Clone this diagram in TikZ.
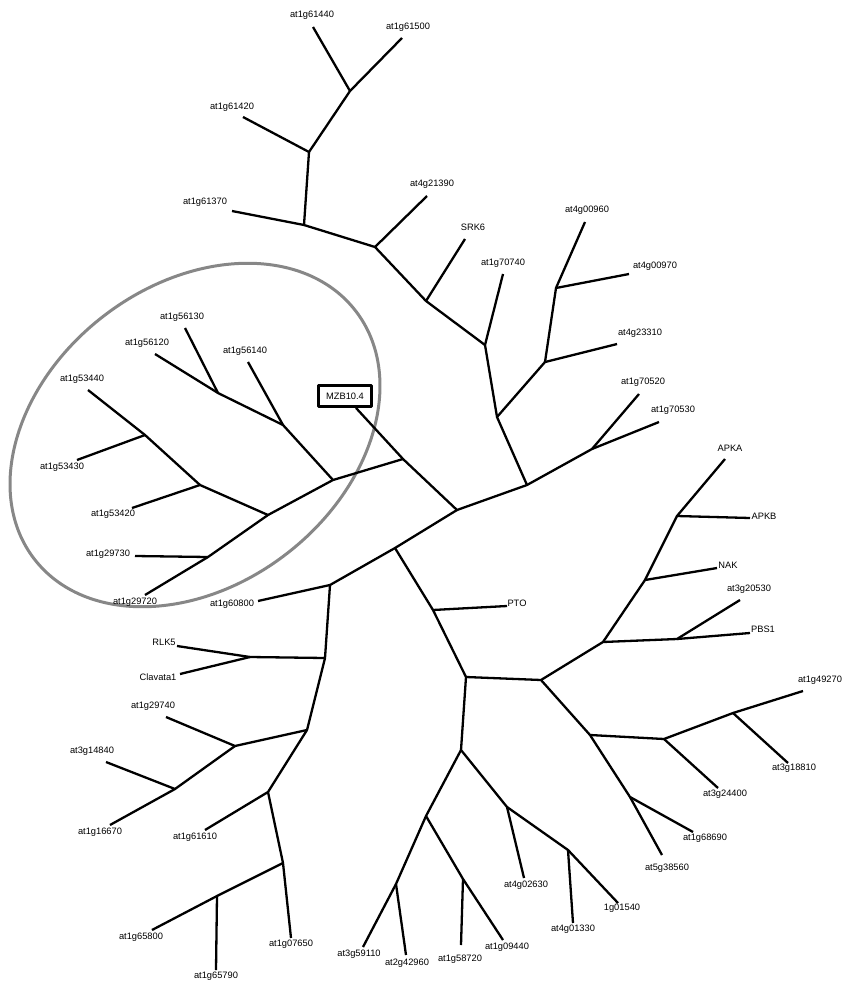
\documentclass[tikz,border=0pt]{standalone}
\usepackage{fontspec}
\setmainfont{Liberation Sans}
\begin{document}
\begin{tikzpicture}[x=1pt, y=-1pt, line join=round]
        % Definición de estilos
        \tikzstyle{rama} = [line width=2.3pt]
        \tikzstyle{etiquetaGen} = [font=\fontsize{9.3}{11}\selectfont, inner sep=0pt]
        \tikzstyle{cajaGen} = [draw, line width=2.8pt, minimum width=53pt, minimum height=21pt, inner sep=0pt, font=\fontsize{9.3}{11}\selectfont]
        \tikzstyle{grupo} = [draw=black!47, line width=3pt]

        \useasboundingbox (0,0) rectangle (845,982);

        % Nodos internos
        \coordinate (nA) at (457,510);  \coordinate (nB) at (403,459);
        \coordinate (nC) at (333,480);  \coordinate (nD) at (283,425);
        \coordinate (nE) at (218,393);  \coordinate (nF) at (268,515);
        \coordinate (nG) at (200,485);  \coordinate (nH) at (145,435);
        \coordinate (nI) at (208,557);  \coordinate (nJ) at (527,485);
        \coordinate (nK) at (592,449);  \coordinate (nL) at (497,417);
        \coordinate (nM) at (545,362);  \coordinate (nN) at (556,288);
        \coordinate (nO) at (485,345);  \coordinate (nP) at (426,301);
        \coordinate (nQ) at (375,247);  \coordinate (nR) at (304,225);
        \coordinate (nS) at (309,152);  \coordinate (nT) at (350,91);
        \coordinate (nU) at (395,548);  \coordinate (nV) at (330,585);
        \coordinate (nW) at (325,658);  \coordinate (nX) at (250,657);
        \coordinate (nY) at (307,730);  \coordinate (nZ) at (235,746);
        \coordinate (nAA) at (175,789); \coordinate (nAB) at (268,792);
        \coordinate (nAC) at (283,863); \coordinate (nAD) at (217,896);
        \coordinate (nAE) at (433,610); \coordinate (nAF) at (466,677);
        \coordinate (nAG) at (541,680); \coordinate (nAH) at (461,750);
        \coordinate (nAI) at (426,816); \coordinate (nAJ) at (396,884);
        \coordinate (nAK) at (463,879); \coordinate (nAL) at (507,807);
        \coordinate (nAM) at (568,850); \coordinate (nAN) at (603,642);
        \coordinate (nAO) at (677,639); \coordinate (nAP) at (645,580);
        \coordinate (nAQ) at (677,516); \coordinate (nAR) at (590,735);
        \coordinate (nAS) at (664,739); \coordinate (nAT) at (733,713);
        \coordinate (nAU) at (630,797);

        % Extremos de las hojas
        \coordinate (t61440) at (313,27);   \coordinate (t61500) at (402,38);
        \coordinate (t61420) at (243,117);  \coordinate (t61370) at (232,211);
        \coordinate (t21390) at (427,196);  \coordinate (tSRK6) at (465,239);
        \coordinate (t70740) at (503,274);  \coordinate (t00960) at (585,222);
        \coordinate (t00970) at (629,274);  \coordinate (t23310) at (617,344);
        \coordinate (t70520) at (639,394);  \coordinate (t70530) at (659,422);
        \coordinate (tAPKA) at (725,459);   \coordinate (tAPKB) at (750,518);
        \coordinate (tNAK) at (717,568);    \coordinate (t20530) at (740,600);
        \coordinate (tPBS1) at (750,633);   \coordinate (t49270) at (803,691);
        \coordinate (t18810) at (788,763);  \coordinate (t24400) at (718,788);
        \coordinate (t68690) at (693,832);  \coordinate (t38560) at (662,855);
        \coordinate (t01540) at (618,903);  \coordinate (t01330) at (573,923);
        \coordinate (t02630) at (524,878);  \coordinate (t09440) at (503,940);
        \coordinate (t58720) at (461,945);  \coordinate (t42960) at (406,955);
        \coordinate (t59110) at (363,947);  \coordinate (t07650) at (291,938);
        \coordinate (t65790) at (216,970);  \coordinate (t65800) at (152,930);
        \coordinate (t61610) at (205,830);  \coordinate (t16670) at (110,825);
        \coordinate (t14840) at (106,762);  \coordinate (t29740) at (166,717);
        \coordinate (tClav) at (180,674);   \coordinate (tRLK5) at (177,646);
        \coordinate (t60800) at (258,601);  \coordinate (t29720) at (145,595);
        \coordinate (t29730) at (135,556);  \coordinate (t53420) at (132,508);
        \coordinate (t53430) at (77,460);   \coordinate (t53440) at (88,390);
        \coordinate (t56120) at (155,354);  \coordinate (t56130) at (185,328);
        \coordinate (t56140) at (248,362);  \coordinate (tPTO) at (507,606);

        % Grupo marcado
        \draw[grupo, rotate around={37.7:(195,435)}] (195,435) ellipse [x radius=203pt, y radius=150pt];

        % Etiquetas
        \node[etiquetaGen] (l61440) at (312,15) {at1g61440};
        \node[etiquetaGen] (l61500) at (408,27) {at1g61500};
        \node[etiquetaGen] (l61420) at (232,107) {at1g61420};
        \node[etiquetaGen] (l61370) at (205,202) {at1g61370};
        \node[etiquetaGen] (l21390) at (432,184) {at4g21390};
        \node[etiquetaGen] (lSRK6) at (473,227) {SRK6};
        \node[etiquetaGen] (l70740) at (503,263) {at1g70740};
        \node[etiquetaGen] (l00960) at (587,210) {at4g00960};
        \node[etiquetaGen] (l00970) at (655,266) {at4g00970};
        \node[etiquetaGen] (l23310) at (640,333) {at4g23310};
        \node[etiquetaGen] (l70520) at (643,382) {at1g70520};
        \node[etiquetaGen] (l70530) at (673,410) {at1g70530};
        \node[etiquetaGen] (lAPKA) at (730,448) {APKA};
        \node[etiquetaGen] (lAPKB) at (764,516) {APKB};
        \node[etiquetaGen] (lNAK) at (728,565) {NAK};
        \node[etiquetaGen] (l20530) at (749,589) {at3g20530};
        \node[etiquetaGen] (lPBS1) at (763,629) {PBS1};
        \node[etiquetaGen] (l49270) at (820,680) {at1g49270};
        \node[etiquetaGen] (l18810) at (794,768) {at3g18810};
        \node[etiquetaGen] (l24400) at (725,794) {at3g24400};
        \node[etiquetaGen] (l68690) at (705,838) {at1g68690};
        \node[etiquetaGen] (l38560) at (667,868) {at5g38560};
        \node[etiquetaGen] (l01540) at (622,908) {1g01540};
        \node[etiquetaGen] (l01330) at (573,929) {at4g01330};
        \node[etiquetaGen] (l02630) at (526,885) {at4g02630};
        \node[etiquetaGen] (l09440) at (507,947) {at1g09440};
        \node[etiquetaGen] (l58720) at (460,959) {at1g58720};
        \node[etiquetaGen] (l42960) at (407,963) {at2g42960};
        \node[etiquetaGen] (l59110) at (359,954) {at3g59110};
        \node[etiquetaGen] (l07650) at (291,944) {at1g07650};
        \node[etiquetaGen] (l65790) at (216,976) {at1g65790};
        \node[etiquetaGen] (l65800) at (141,937) {at1g65800};
        \node[etiquetaGen] (l61610) at (195,837) {at1g61610};
        \node[etiquetaGen] (l16670) at (100,832) {at1g16670};
        \node[etiquetaGen] (l14840) at (92,751) {at3g14840};
        \node[etiquetaGen] (l29740) at (153,706) {at1g29740};
        \node[etiquetaGen] (lClav) at (158,677) {Clavata1};
        \node[etiquetaGen] (lRLK5) at (164,642) {RLK5};
        \node[etiquetaGen] (l60800) at (232,604) {at1g60800};
        \node[etiquetaGen] (l29720) at (135,602) {at1g29720};
        \node[etiquetaGen] (l29730) at (108,554) {at1g29730};
        \node[etiquetaGen] (l53420) at (113,514) {at1g53420};
        \node[etiquetaGen] (l53430) at (62,467) {at1g53430};
        \node[etiquetaGen] (l53440) at (82,379) {at1g53440};
        \node[etiquetaGen] (l56120) at (147,343) {at1g56120};
        \node[etiquetaGen] (l56130) at (182,317) {at1g56130};
        \node[etiquetaGen] (l56140) at (245,351) {at1g56140};
        \node[etiquetaGen] (lPTO) at (517,603) {PTO};
        \node[cajaGen] (mzb) at (345,396) {MZB10.4};

        % Ramas
        \draw[rama] (mzb) -- (nB) -- (nA) -- (nJ) -- (nK) -- (t70530);
        \draw[rama] (nB) -- (nC) -- (nF) -- (nI) -- (t29720);
        \draw[rama] (nC) -- (nD) -- (t56140);
        \draw[rama] (nD) -- (nE) -- (t56130);
        \draw[rama] (nE) -- (t56120);
        \draw[rama] (nF) -- (nG) -- (t53420);
        \draw[rama] (nG) -- (nH) -- (t53440);
        \draw[rama] (nH) -- (t53430);
        \draw[rama] (nI) -- (t29730);
        \draw[rama] (nK) -- (t70520);
        \draw[rama] (nJ) -- (nL) -- (nM) -- (t23310);
        \draw[rama] (nM) -- (nN) -- (t00960);
        \draw[rama] (nN) -- (t00970);
        \draw[rama] (nL) -- (nO) -- (t70740);
        \draw[rama] (nO) -- (nP) -- (tSRK6);
        \draw[rama] (nP) -- (nQ) -- (t21390);
        \draw[rama] (nQ) -- (nR) -- (t61370);
        \draw[rama] (nR) -- (nS) -- (t61420);
        \draw[rama] (nS) -- (nT) -- (t61440);
        \draw[rama] (nT) -- (t61500);
        \draw[rama] (nA) -- (nU) -- (nV) -- (t60800);
        \draw[rama] (nV) -- (nW) -- (nX) -- (tRLK5);
        \draw[rama] (nX) -- (tClav);
        \draw[rama] (nW) -- (nY) -- (nZ) -- (t29740);
        \draw[rama] (nZ) -- (nAA) -- (t14840);
        \draw[rama] (nAA) -- (t16670);
        \draw[rama] (nY) -- (nAB) -- (t61610);
        \draw[rama] (nAB) -- (nAC) -- (t07650);
        \draw[rama] (nAC) -- (nAD) -- (t65800);
        \draw[rama] (nAD) -- (t65790);
        \draw[rama] (nU) -- (nAE) -- (tPTO);
        \draw[rama] (nAE) -- (nAF) -- (nAH) -- (nAI) -- (nAJ) -- (t59110);
        \draw[rama] (nAJ) -- (t42960);
        \draw[rama] (nAI) -- (nAK) -- (t09440);
        \draw[rama] (nAK) -- (t58720);
        \draw[rama] (nAH) -- (nAL) -- (t02630);
        \draw[rama] (nAL) -- (nAM) -- (t01330);
        \draw[rama] (nAM) -- (t01540);
        \draw[rama] (nAF) -- (nAG) -- (nAN) -- (nAO) -- (t20530);
        \draw[rama] (nAO) -- (tPBS1);
        \draw[rama] (nAN) -- (nAP) -- (tNAK);
        \draw[rama] (nAP) -- (nAQ) -- (tAPKA);
        \draw[rama] (nAQ) -- (tAPKB);
        \draw[rama] (nAG) -- (nAR) -- (nAU) -- (t38560);
        \draw[rama] (nAU) -- (t68690);
        \draw[rama] (nAR) -- (nAS) -- (t24400);
        \draw[rama] (nAS) -- (nAT) -- (t49270);
        \draw[rama] (nAT) -- (t18810);
    \end{tikzpicture}
\end{document}
